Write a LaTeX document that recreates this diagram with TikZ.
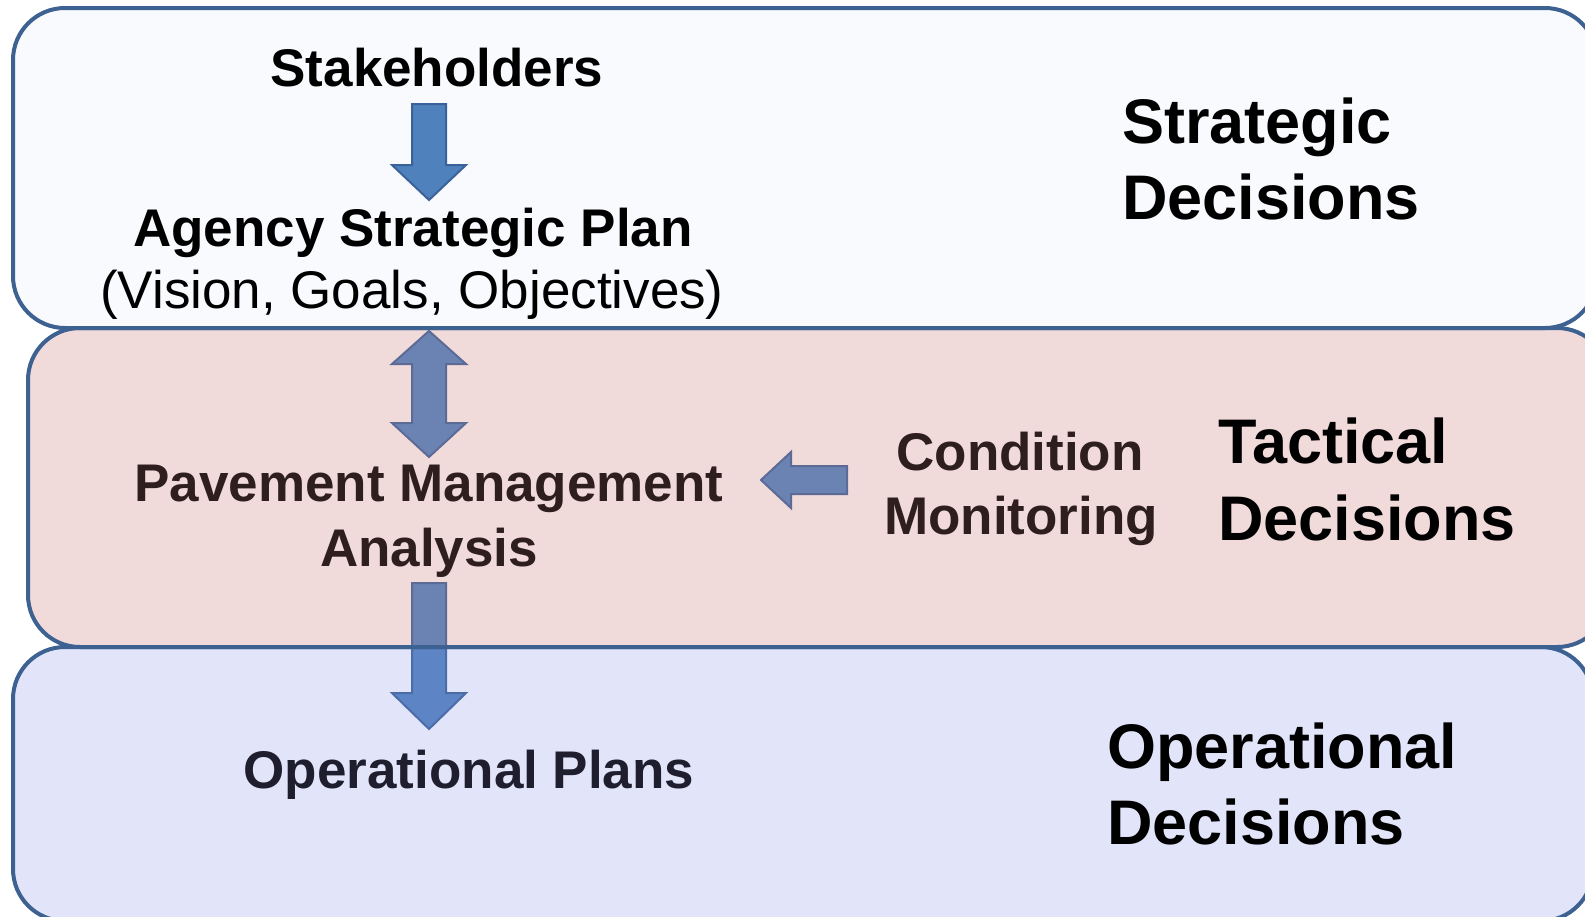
\documentclass[tikz,border=0pt]{standalone}
\usepackage{fontspec}
\setmainfont{Liberation Sans}
\begin{document}
\begin{tikzpicture}[x=1pt,y=-1pt]
\definecolor{edgeblue}{HTML}{3D6191}
\definecolor{topfill}{HTML}{F8FAFD}
\definecolor{pinkbase}{RGB}{251,240,240}
\definecolor{pinkveil}{RGB}{210,140,140}
\definecolor{lavbase}{RGB}{245,249,255}
\definecolor{lavveil}{RGB}{150,150,230}
\definecolor{arrowfill}{HTML}{4F81BD}
\definecolor{arrowedge}{HTML}{3A6299}
\tikzset{
  tier/.style={rounded corners=52pt},
  tierline/.style={tier, draw=edgeblue, line width=4pt},
  blockarrow/.style={fill=arrowfill, draw=arrowedge, line width=2pt, line join=miter},
  plaintext/.style={font=\fontsize{53}{60}\selectfont, inner sep=0pt, anchor=base},
  boldtext/.style={plaintext, font=\fontsize{53}{60}\selectfont\bfseries},
  tiertitle/.style={font=\fontsize{63}{70}\selectfont\bfseries, inner sep=0pt, anchor=base west},
}
\useasboundingbox (0,0) rectangle (1585,916);
\clip (0,0) rectangle (1585,916);

% tier panels (they run past the right and bottom edges)
\path[tier, fill=topfill] (13,8) rectangle (1597,328);
\path[tier, fill=pinkbase] (28,328) rectangle (1609,647);
\path[tier, fill=lavbase] (13,647) rectangle (1593,921);

% strategic tier content
\node[boldtext] (stake) at (437,86) {Stakeholders};
\node[boldtext] (agency) at (413,246) {Agency Strategic Plan};
\node[plaintext] (vision) at (412,308) {(Vision, Goals, Objectives)};
\path[blockarrow] (412,104) -- (446,104) -- (446,165) -- (466,165) -- (429,200)
  -- (392,165) -- (412,165) -- cycle;

% tactical tier content
\node[boldtext] (pma1) at (429,501) {Pavement Management};
\node[boldtext] (pma2) at (429,566) {Analysis};
\node[boldtext] (cm1) at (1020,470) {Condition};
\node[boldtext] (cm2) at (1021,534) {Monitoring};
\path[blockarrow] (429,331) -- (466,364) -- (446,364) -- (446,423) -- (466,423)
  -- (429,457) -- (392,423) -- (412,423) -- (412,364) -- (392,364) -- cycle;
\path[blockarrow] (761,480) -- (791,452) -- (791,466) -- (847,466) -- (847,494)
  -- (791,494) -- (791,508) -- cycle;
\path[blockarrow] (412,583) -- (446,583) -- (446,693) -- (466,693) -- (429,729)
  -- (392,693) -- (412,693) -- cycle;

% operational tier content
\node[boldtext] (oplans) at (469,788) {Operational Plans};

% tinted veils over the lower two tiers
\path[tier, fill=pinkveil, fill opacity=0.22] (28,328) rectangle (1609,647);
\path[tier, fill=lavveil, fill opacity=0.2] (13,647) rectangle (1593,921);

% panel outlines
\path[tierline] (13,8) rectangle (1597,328);
\path[tierline] (28,328) rectangle (1609,647);
\path[tierline] (13,647) rectangle (1593,921);

% tier titles
\node[tiertitle] (st1) at (1122,143) {Strategic};
\node[tiertitle] (st2) at (1122,219) {Decisions};
\node[tiertitle] (ta1) at (1218,463) {Tactical};
\node[tiertitle] (ta2) at (1218,540) {Decisions};
\node[tiertitle] (op1) at (1107,768) {Operational};
\node[tiertitle] (op2) at (1107,844) {Decisions};
\end{tikzpicture}
\end{document}
